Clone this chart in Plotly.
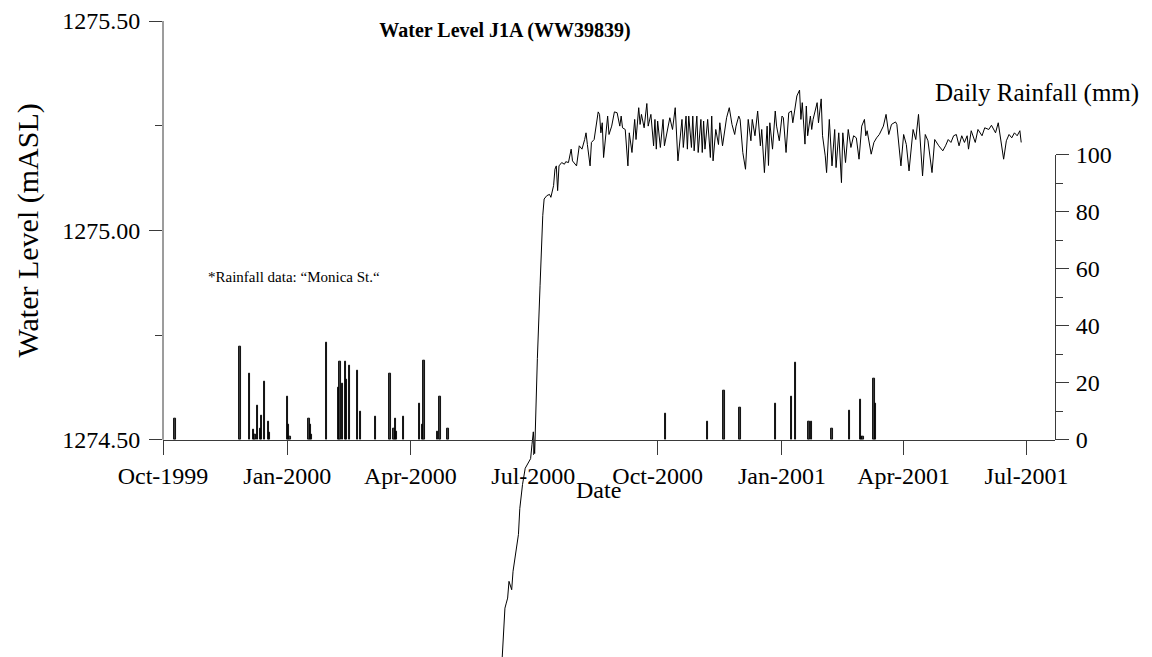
import pandas as pd
import plotly.graph_objects as go

# ---- data ----
# water level, days after 1 Jun 2000
WL_BASE = "2000-06-01"
wl_day = [
    7, 9, 10, 11, 12, 14, 15, 17, 19, 20,
    22, 24, 27, 28, 29, 30, 31, 32, 33, 35,
    36, 37, 38, 40, 42, 43, 45, 46, 47, 48,
    49, 51, 53, 54, 56, 58, 59, 62, 64, 66,
    68, 69, 70, 72, 73, 75, 78, 79, 80, 81,
    82, 85, 86, 88, 90, 92, 94, 95, 96, 98,
    100, 101, 103, 105, 106, 108, 109, 110, 112, 113,
    114, 115, 117, 119, 120, 121, 122, 124, 126, 127,
    130, 131, 133, 135, 137, 140, 141, 143, 144, 145,
    147, 148, 149, 151, 152, 154, 155, 156, 157, 159,
    161, 162, 163, 165, 167, 168, 170, 172, 173, 175,
    177, 179, 180, 182, 183, 185, 187, 189, 191, 192,
    194, 196, 198, 199, 201, 203, 204, 205, 207, 209,
    210, 212, 214, 215, 217, 219, 221, 222, 224, 225,
    227, 228, 229, 231, 232, 233, 235, 236, 237, 240,
    241, 243, 244, 246, 247, 249, 251, 253, 254, 256,
    258, 259, 261, 263, 265, 267, 269, 271, 273, 275,
    276, 277, 280, 282, 284, 286, 289, 291, 293, 295,
    298, 299, 302, 304, 306, 308, 311, 313, 315, 318,
    320, 322, 325, 327, 330, 333, 335, 337, 339, 341,
    343, 345, 347, 349, 351, 352, 354, 357, 359, 362,
    364, 367, 369, 372, 374, 376, 378, 380, 382, 384,
    386, 388, 390, 391,
]
wl_level = [
    1273.981, 1274.098, 1274.110, 1274.122, 1274.162, 1274.142, 1274.186, 1274.229, 1274.274, 1274.336,
    1274.393, 1274.432, 1274.448, 1274.455, 1274.488, 1274.519, 1274.467, 1274.607, 1274.694, 1274.869,
    1274.979, 1275.036, 1275.075, 1275.083, 1275.086, 1275.079, 1275.107, 1275.146, 1275.154, 1275.095,
    1275.154, 1275.162, 1275.158, 1275.164, 1275.162, 1275.194, 1275.166, 1275.154, 1275.202, 1275.194,
    1275.217, 1275.233, 1275.205, 1275.154, 1275.210, 1275.217, 1275.283, 1275.277, 1275.233, 1275.257,
    1275.174, 1275.273, 1275.229, 1275.249, 1275.283, 1275.281, 1275.249, 1275.273, 1275.245, 1275.241,
    1275.154, 1275.233, 1275.186, 1275.265, 1275.217, 1275.293, 1275.253, 1275.277, 1275.245, 1275.273,
    1275.303, 1275.249, 1275.277, 1275.202, 1275.265, 1275.194, 1275.261, 1275.198, 1275.265, 1275.202,
    1275.249, 1275.269, 1275.241, 1275.293, 1275.166, 1275.265, 1275.198, 1275.273, 1275.194, 1275.273,
    1275.198, 1275.273, 1275.190, 1275.273, 1275.186, 1275.265, 1275.186, 1275.261, 1275.194, 1275.265,
    1275.174, 1275.273, 1275.166, 1275.241, 1275.205, 1275.257, 1275.202, 1275.253, 1275.269, 1275.293,
    1275.253, 1275.229, 1275.249, 1275.273, 1275.265, 1275.186, 1275.146, 1275.265, 1275.214, 1275.265,
    1275.226, 1275.285, 1275.202, 1275.241, 1275.138, 1275.249, 1275.155, 1275.257, 1275.194, 1275.285,
    1275.249, 1275.214, 1275.273, 1275.269, 1275.186, 1275.281, 1275.285, 1275.257, 1275.305, 1275.321,
    1275.335, 1275.265, 1275.305, 1275.206, 1275.297, 1275.226, 1275.273, 1275.241, 1275.265, 1275.305,
    1275.257, 1275.314, 1275.226, 1275.178, 1275.138, 1275.265, 1275.154, 1275.241, 1275.150, 1275.233,
    1275.114, 1275.233, 1275.162, 1275.241, 1275.198, 1275.226, 1275.221, 1275.170, 1275.249, 1275.265,
    1275.226, 1275.238, 1275.182, 1275.210, 1275.221, 1275.229, 1275.249, 1275.277, 1275.229, 1275.253,
    1275.259, 1275.253, 1275.154, 1275.229, 1275.205, 1275.142, 1275.241, 1275.217, 1275.277, 1275.130,
    1275.229, 1275.214, 1275.138, 1275.217, 1275.202, 1275.190, 1275.202, 1275.217, 1275.210, 1275.226,
    1275.229, 1275.202, 1275.226, 1275.210, 1275.226, 1275.194, 1275.238, 1275.210, 1275.241, 1275.226,
    1275.245, 1275.241, 1275.251, 1275.233, 1275.257, 1275.210, 1275.170, 1275.214, 1275.229, 1275.221,
    1275.233, 1275.226, 1275.238, 1275.210,
]

# daily rainfall, days after 1 Oct 1999
RAIN_BASE = "1999-10-01"
rain_day = [
    9, 57, 64, 67, 68, 70, 72, 73, 75, 78,
    79, 92, 93, 94, 108, 109, 110, 121, 130, 131,
    133, 135, 136, 138, 144, 146, 157, 168, 171, 172,
    173, 178, 190, 192, 193, 203, 205, 211,
    372, 403, 415, 427, 453, 465, 468, 478, 480, 495,
    508, 516, 517, 518, 526, 527,
]
rain_mm = [
    7.4, 32.5, 23.2, 3.4, 1.9, 12.1, 4.0, 8.6, 20.3, 6.5,
    2.4, 15.0, 5.4, 1.0, 7.4, 5.4, 1.9, 34.0, 18.3, 27.3,
    19.7, 27.3, 21.2, 25.9, 24.4, 10.0, 8.0, 23.2, 4.0, 7.4,
    3.0, 8.0, 12.7, 5.4, 27.9, 3.0, 15.0, 4.0,
    9.2, 6.5, 17.4, 11.2, 12.7, 15.3, 27.0, 6.3, 6.5, 4.0,
    10.1, 14.2, 1.0, 1.0, 21.4, 12.7,
]

x_ticks = ["1999-10-01", "2000-01-01", "2000-04-01", "2000-07-01",
           "2000-10-01", "2001-01-01", "2001-04-01", "2001-07-01"]
x_labels = ["Oct-1999", "Jan-2000", "Apr-2000", "Jul-2000",
            "Oct-2000", "Jan-2001", "Apr-2001", "Jul-2001"]
wl_ticks = [1274.5, 1275.0, 1275.5]
rain_ticks = [0, 20, 40, 60, 80, 100]

wl_dates = pd.Timestamp(WL_BASE) + pd.to_timedelta(wl_day, unit="D")
rain_dates = pd.Timestamp(RAIN_BASE) + pd.to_timedelta(rain_day, unit="D")

# ---- layout geometry ----
# positions below are measured on the target picture; the page shifts the
# figure (body margin) and the capture squeezes it a little vertically,
# so target pixels are mapped to figure pixels first.
OX = 8
OY, SY = 11.4, 0.974


def fx(px):
    return px - OX


def fy(py):
    return py / SY - OY


W = 1152 - OX
H = int(round(fy(657))) + 1
L, R = fx(163), fx(1055)
T, B = fy(18), H


def px_x(px):
    return (fx(px) - L) / (R - L)


def px_y(py):
    return (B - fy(py)) / (B - T)


FONT = "Liberation Serif, Times New Roman, serif"
AX = "#3a3a3a"

# level range so that 1274.5 sits on the baseline and 1275.5 on the top edge
base = fy(438)
per_px = 1.0 / (base - T)
y_low = 1274.5 - (B - base) * per_px

fig = go.Figure()

fig.add_trace(go.Bar(
    x=rain_dates, y=rain_mm, xaxis="x", yaxis="y2",
    width=86400000 * 1.0,
    marker=dict(color="#3c3c3c", line=dict(color="black", width=0.9)),
    showlegend=False,
))

fig.add_trace(go.Scatter(
    x=wl_dates, y=wl_level, mode="lines", xaxis="x", yaxis="y",
    line=dict(color="black", width=1),
    showlegend=False,
))

fig.update_layout(
    width=W, height=H,
    margin=dict(l=L, r=W - R, t=T, b=H - B, pad=0),
    paper_bgcolor="white", plot_bgcolor="rgba(0,0,0,0)",
    font=dict(family=FONT, size=24, color="black"),
    bargap=0,
    title=dict(
        text="<b>Water Level J1A (WW39839)</b>",
        x=fx(505) / W, y=1 - fy(33) / H,
        xanchor="center", yanchor="middle",
        font=dict(family=FONT, size=20, color="black"),
    ),
    xaxis=dict(
        type="date",
        range=["1999-10-01", "2001-07-22"],
        domain=[0, 1],
        anchor="free", position=px_y(438),
        tickvals=x_ticks, ticktext=x_labels,
        ticks="outside", ticklen=14, tickcolor=AX, tickwidth=1,
        showline=True, linecolor=AX, linewidth=1,
        showgrid=False, zeroline=False,
        tickfont=dict(size=24),
    ),
    yaxis=dict(
        range=[y_low, 1275.5],
        domain=[0, 1],
        tickvals=wl_ticks, ticktext=["%.2f" % v for v in wl_ticks],
        ticks="outside", ticklen=13, tickcolor=AX, tickwidth=1,
        ticklabelstandoff=4,
        minor=dict(tickvals=[1274.75, 1275.25], ticks="outside",
                   ticklen=7, tickcolor=AX, showgrid=False),
        showline=False, showgrid=False, zeroline=False,
        tickfont=dict(size=24),
    ),
    yaxis2=dict(
        range=[0, 100],
        domain=[px_y(438), px_y(152)],
        anchor="x", side="right",
        tickvals=rain_ticks,
        ticks="outside", ticklen=13, tickcolor=AX, tickwidth=1,
        ticklabelstandoff=2,
        minor=dict(tickvals=[10, 30, 50, 70, 90], ticks="outside",
                   ticklen=7, tickcolor=AX, showgrid=False),
        showline=True, linecolor=AX, linewidth=1,
        showgrid=False, zeroline=False,
        tickfont=dict(size=24),
    ),
    shapes=[
        # left level axis only spans 1274.50 .. 1275.50
        dict(type="line", xref="paper", yref="y", x0=0, x1=0,
             y0=1274.5, y1=1275.5, line=dict(color=AX, width=1)),
    ],
    annotations=[
        dict(text="Water Level (mASL)", textangle=-90,
             xref="paper", yref="paper", x=px_x(28), y=px_y(228),
             xanchor="center", yanchor="middle", showarrow=False,
             font=dict(size=30)),
        dict(text="Date", xref="paper", yref="paper",
             x=px_x(598), y=px_y(488), xanchor="center", yanchor="middle",
             showarrow=False, font=dict(size=24)),
        dict(text="Daily Rainfall (mm)", xref="paper", yref="paper",
             x=px_x(1141), y=px_y(90), xanchor="right", yanchor="middle",
             showarrow=False, font=dict(size=25)),
        dict(text="*Rainfall data: “Monica St.“", xref="paper", yref="paper",
             x=px_x(206), y=px_y(275), xanchor="left", yanchor="middle",
             showarrow=False, font=dict(size=15)),
    ],
)

fig.write_html("out.html")
